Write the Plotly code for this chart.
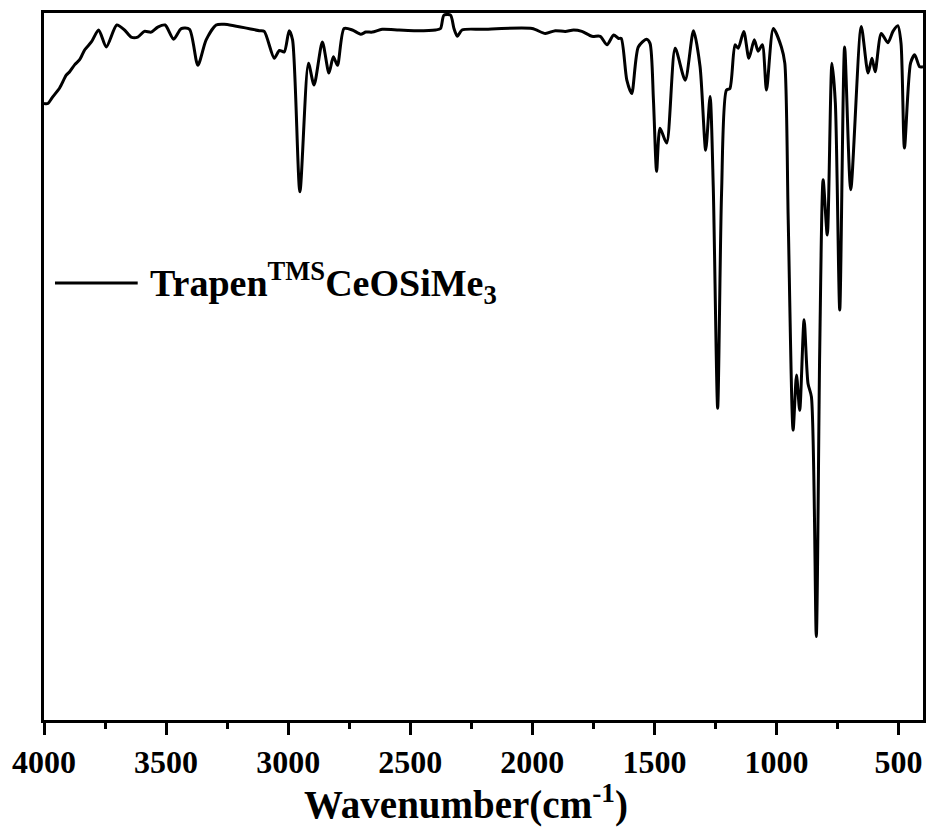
import plotly.graph_objects as go

# FT-IR spectrum of Trapen(TMS)CeOSiMe3: wavenumber (cm-1) vs transmittance (%)
wavenumber = [
    4000, 3984, 3965, 3936, 3909, 3895, 3874, 3854, 3833, 3806,
    3776, 3745, 3702, 3670, 3643, 3616, 3589, 3561, 3534, 3504,
    3469, 3438, 3404, 3370, 3336, 3295, 3262, 3118, 3098, 3057,
    3036, 3016, 2996, 2982, 2952, 2917, 2894, 2860, 2833, 2815,
    2798, 2771, 2737, 2703, 2682, 2655, 2615, 2546, 2477, 2396,
    2376, 2362, 2335, 2321, 2307, 2288, 2206, 2001, 1947, 1906,
    1865, 1831, 1797, 1756, 1722, 1694, 1667, 1647, 1636, 1613,
    1593, 1566, 1532, 1518, 1504, 1491, 1477, 1450, 1415, 1374,
    1340, 1313, 1290, 1272, 1259, 1241, 1225, 1205, 1191, 1170,
    1157, 1134, 1113, 1091, 1075, 1058, 1041, 1013, 980, 966,
    952, 932, 918, 905, 887, 871, 857, 837, 823, 809,
    792, 773, 759, 741, 721, 696, 653, 625, 609, 596,
    571, 544, 523, 503, 490, 476, 451, 434, 414, 400,
]
transmittance = [
    87.2, 87.2, 88.1, 89.4, 91.2, 91.7, 92.7, 93.4, 94.8, 95.9,
    97.6, 95.2, 98.3, 97.6, 96.6, 96.6, 97.4, 97.3, 98.0, 98.3,
    96.3, 97.8, 97.7, 92.6, 96.2, 98.3, 98.4, 97.5, 97.4, 93.6,
    94.7, 94.5, 97.5, 96.2, 74.7, 92.9, 89.8, 95.9, 91.5, 93.8,
    92.6, 97.8, 97.6, 97.0, 97.3, 97.3, 97.7, 97.6, 97.5, 97.6,
    97.8, 99.7, 99.7, 97.8, 96.7, 97.6, 97.7, 97.8, 97.1, 97.5,
    97.4, 97.6, 97.4, 96.7, 96.7, 95.5, 96.9, 96.4, 96.4, 90.5,
    88.6, 95.2, 96.3, 95.7, 87.7, 77.6, 83.7, 81.6, 95.0, 90.5,
    97.5, 92.4, 80.6, 88.2, 75.4, 44.1, 74.5, 89.1, 89.3, 95.5,
    95.0, 97.4, 93.6, 96.2, 94.6, 95.5, 89.1, 97.8, 95.2, 92.9,
    70.7, 41.0, 48.8, 43.8, 56.6, 47.6, 45.7, 11.8, 52.3, 76.4,
    68.6, 92.9, 87.3, 58.0, 95.2, 75.0, 98.1, 91.5, 93.6, 91.7,
    97.1, 95.8, 97.4, 98.2, 95.7, 80.9, 92.9, 94.1, 92.4, 92.4,
]

tick_values = [4000, 3500, 3000, 2500, 2000, 1500, 1000, 500]
tick_labels = ["4000", "3500", "3000", "2500", "2000", "1500", "1000", "500"]

series_name = "Trapen<sup>TMS</sup>CeOSiMe<sub>3</sub>"
x_title = "Wavenumber(cm<sup>-1</sup>)"

serif = "Liberation Serif, Times New Roman, serif"

fig = go.Figure()
fig.add_trace(go.Scatter(
    x=wavenumber, y=transmittance, mode="lines",
    line=dict(color="black", width=3, shape="spline", smoothing=0.7),
    name=series_name, showlegend=False,
))

fig.update_layout(
    width=931, height=829,
    margin=dict(l=44, r=5, t=13, b=109),
    paper_bgcolor="white", plot_bgcolor="white",
    font=dict(family=serif, color="black"),
    xaxis=dict(
        range=[4000, 400], tickvals=tick_values,
        ticktext=["<b>%s</b>" % t for t in tick_labels],
        ticks="outside", ticklen=12, tickwidth=3, tickcolor="black",
        minor=dict(dtick=250, ticks="outside", ticklen=6, tickwidth=3, tickcolor="black"),
        showline=True, linecolor="black", linewidth=3, mirror=True,
        showgrid=False, zeroline=False,
        tickfont=dict(family=serif, size=32, color="black"),
    ),
    yaxis=dict(
        range=[0, 100], showticklabels=False, ticks="",
        showline=True, linecolor="black", linewidth=3, mirror=True,
        showgrid=False, zeroline=False,
    ),
)

# axis title
fig.add_annotation(
    text="<b>%s</b>" % x_title, xref="paper", yref="paper", x=0.48, y=0,
    xanchor="center", yanchor="top", yshift=-56, showarrow=False,
    font=dict(family=serif, size=39, color="black"),
)

# legend key and label
fig.add_shape(type="line", xref="paper", yref="paper",
              x0=0.0125, x1=0.1066, y0=0.618, y1=0.618,
              line=dict(color="black", width=3))
fig.add_annotation(
    text="<b>%s</b>" % series_name, xref="paper", yref="paper", x=0.118, y=0.618,
    xanchor="left", yanchor="middle", showarrow=False,
    font=dict(family=serif, size=38, color="black"),
)

fig.write_html("out.html")
